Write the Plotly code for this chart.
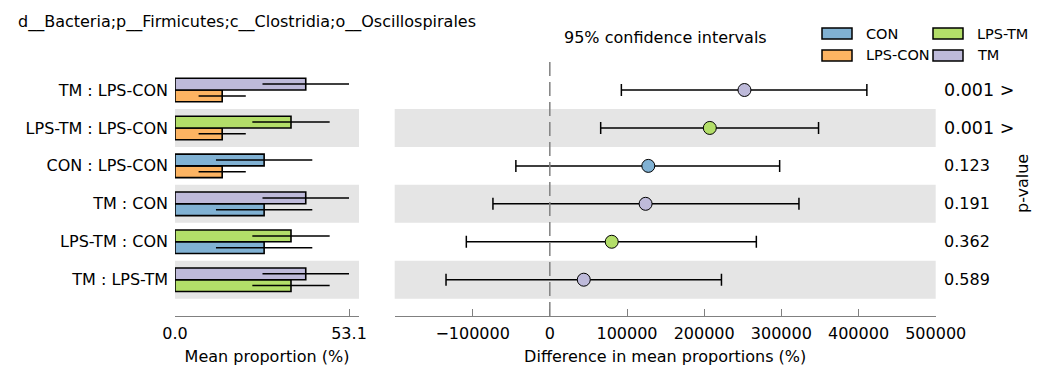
import plotly.graph_objects as go

# ---------------- data ----------------
comparisons = ["TM : LPS-CON", "LPS-TM : LPS-CON", "CON : LPS-CON",
               "TM : CON", "LPS-TM : CON", "TM : LPS-TM"]
group_a = ["TM", "LPS-TM", "CON", "TM", "LPS-TM", "TM"]
group_b = ["LPS-CON", "LPS-CON", "LPS-CON", "CON", "CON", "LPS-TM"]

groups = ["CON", "LPS-CON", "LPS-TM", "TM"]
group_means = [27.2, 14.4, 35.4, 39.9]
group_err = [14.7, 7.2, 11.8, 13.2]

diff_means = [252200, 207300, 127600, 124100, 80200, 44000]
ci_lower = [92700, 65900, -44000, -73700, -108200, -134500]
ci_upper = [410800, 348200, 297800, 322800, 267600, 222400]
p_values = ["0.001 >", "0.001 >", "0.123", "0.191", "0.362", "0.589"]

mean_ticks = [0.0, 53.1]
diff_ticks = [-100000, 0, 100000, 200000, 300000, 400000, 500000]

# ---------------- styles ----------------
group_colors = {"CON": "#80B1D3", "LPS-CON": "#FDB462",
                "LPS-TM": "#B3DE69", "TM": "#BEBADA"}
W, H = 1040, 369
TOP, BOTTOM = 58, 316
FONT = "DejaVu Sans"
AXC = "#808080"
BAND = "#e5e5e5"


def px(x):
    return x / W


def py(y):
    return (BOTTOM - y) / (BOTTOM - TOP)


mean_of = dict(zip(groups, group_means))
err_of = dict(zip(groups, group_err))
n = len(comparisons)
ypos = [n - 1 - i for i in range(n)]

fig = go.Figure()

# left panel: bottom bar (second group), then top bar (first group)
for names in (group_b, group_a):
    fig.add_trace(go.Bar(
        y=ypos, x=[mean_of[g] for g in names], orientation="h",
        marker=dict(color=[group_colors[g] for g in names],
                    line=dict(color="black", width=1.6)),
        error_x=dict(type="data", array=[err_of[g] for g in names],
                     color="black", thickness=1.5, width=0),
        xaxis="x", yaxis="y", showlegend=False, hoverinfo="skip"))

# right panel: confidence intervals
fig.add_trace(go.Scatter(
    x=diff_means, y=ypos, mode="markers",
    marker=dict(size=13, color=[group_colors[g] for g in group_a],
                line=dict(color="black", width=1)),
    error_x=dict(type="data", symmetric=False,
                 array=[u - m for u, m in zip(ci_upper, diff_means)],
                 arrayminus=[m - l for l, m in zip(ci_lower, diff_means)],
                 color="black", thickness=1.5, width=6),
    xaxis="x2", yaxis="y2", showlegend=False, hoverinfo="skip"))

shapes = []
# alternating bands
for i, yv in enumerate(ypos):
    if i % 2 == 1:
        for xr, yr in (("x domain", "y"), ("x2 domain", "y2")):
            shapes.append(dict(type="rect", xref=xr, yref=yr, x0=0, x1=1,
                               y0=yv - 0.5, y1=yv + 0.5, fillcolor=BAND,
                               line=dict(width=0), layer="below"))
# zero line
shapes.append(dict(type="line", xref="x2", yref="paper", x0=0, x1=0, y0=0, y1=1,
                   line=dict(color=AXC, width=1.5, dash="14px,6px")))

annotations = []
# legend (two columns)
leg_cols = [[822, 864], [933, 975]]
leg_rows = [33.5, 55.5]
order = [["CON", "LPS-CON"], ["LPS-TM", "TM"]]
for c, col in enumerate(order):
    for r, g in enumerate(col):
        x0, xt = leg_cols[c]
        yc = leg_rows[r]
        shapes.append(dict(type="rect", xref="paper", yref="paper",
                           x0=px(x0), x1=px(x0 + 30), y0=py(yc - 5.5), y1=py(yc + 5.5),
                           fillcolor=group_colors[g], line=dict(color="black", width=1.5)))
        annotations.append(dict(text=g, xref="paper", yref="paper", x=px(xt), y=py(yc),
                                xanchor="left", yanchor="middle", showarrow=False,
                                font=dict(size=14.5, family=FONT, color="black")))

# p-values
for yv, p in zip(ypos, p_values):
    annotations.append(dict(text=p, xref="paper", yref="y2", x=px(942), y=yv,
                            xanchor="left", yanchor="middle", showarrow=False,
                            font=dict(size=17.5 if ">" in p else 16, family=FONT, color="black")))
annotations.append(dict(text="p-value", xref="paper", yref="paper", x=px(1022), y=py(184),
                        xanchor="center", yanchor="middle", textangle=-90, showarrow=False,
                        font=dict(size=16, family=FONT, color="black")))
# titles
annotations.append(dict(text="d__Bacteria;p__Firmicutes;c__Clostridia;o__Oscillospirales",
                        xref="paper", yref="paper", x=px(16), y=py(22),
                        xanchor="left", yanchor="middle", showarrow=False,
                        font=dict(size=16, family=FONT, color="black")))
annotations.append(dict(text="95% confidence intervals", xref="paper", yref="paper",
                        x=px(665), y=py(37), xanchor="center", yanchor="middle",
                        showarrow=False, font=dict(size=16, family=FONT, color="black")))

yr = [-(BOTTOM - 279.7) / 37.94, 5 + (90 - TOP) / 37.94]

axis_common = dict(showline=True, linecolor=AXC, linewidth=1, ticks="inside",
                   ticklen=7, tickcolor=AXC, tickwidth=1, showgrid=False,
                   zeroline=False, tickfont=dict(size=16, family=FONT, color="black"),
                   title_font=dict(size=16, family=FONT, color="black"), title_standoff=8,
                   ticklabelstandoff=3, automargin=False)

fig.update_layout(
    width=W, height=H, autosize=False,
    margin=dict(l=0, r=0, t=TOP, b=H - BOTTOM, pad=0),
    paper_bgcolor="white", plot_bgcolor="white",
    barmode="group", bargap=0.38, bargroupgap=0,
    font=dict(family=FONT, color="black"),
    xaxis=dict(domain=[px(175), px(359)], range=[0, 53.1 * 184 / 174], anchor="y",
               tickvals=mean_ticks, ticktext=[f"{v:.1f}" for v in mean_ticks],
               title_text="Mean proportion (%)", **axis_common),
    yaxis=dict(domain=[0, 1], range=yr, anchor="x", tickvals=ypos, ticktext=comparisons,
               showline=False, showgrid=False, zeroline=False, ticks="", automargin=False,
               ticklabelstandoff=6, tickfont=dict(size=16, family=FONT, color="black")),
    xaxis2=dict(domain=[px(394.7), px(935.7)], range=[-201000, 500000], anchor="y2",
                tickvals=diff_ticks, ticktext=[f"\u2212{abs(v)}" if v < 0 else str(v) for v in diff_ticks],
                title_text="Difference in mean proportions (%)", **axis_common),
    yaxis2=dict(domain=[0, 1], range=yr, anchor="x2", showticklabels=False, automargin=False,
                showline=False, showgrid=False, zeroline=False, ticks=""),
    shapes=shapes, annotations=annotations,
)

fig.write_html("out.html")
